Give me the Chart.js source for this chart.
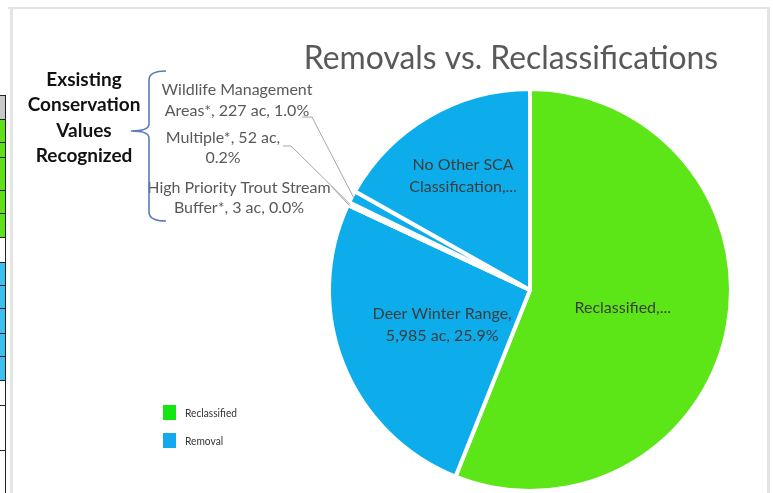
<!DOCTYPE html>
<html>
<head>
<meta charset="utf-8">
<script src="https://cdn.jsdelivr.net/npm/chart.js@4.4.1/dist/chart.umd.min.js"></script>
<style>
  body { margin: 0; background: #fff; }
  #wrap { position: relative; width: 773px; height: 493px; }
</style>
</head>
<body>
<div id="wrap"><canvas id="removalsPie" width="773" height="493"></canvas></div>
<script>
// slice order is clockwise from 12 o'clock, same as the picture
const categories = ['Reclassified', 'Deer Winter Range', 'High Priority Trout Stream Buffer*', 'Multiple*', 'Wildlife Management Areas*', 'No Other SCA Classification'];
const acres = [12950, 5985, 3, 52, 227, 3890];
const groups = ['Reclassified', 'Removal', 'Removal', 'Removal', 'Removal', 'Removal'];
const sliceText = [
    ['Reclassified,...'],
    ['Deer Winter Range,', '5,985 ac, 25.9%'],
    ['High Priority Trout Stream', 'Buffer*, 3 ac, 0.0%'],
    ['Multiple*, 52 ac,', '0.2%'],
    ['Wildlife Management', 'Areas*, 227 ac, 1.0%'],
    ['No Other SCA', 'Classification,...']
];
const legendItems = ['Reclassified', 'Removal'];
const titleText = 'Removals vs. Reclassifications';
const sideNote = ['Exsisting', 'Conservation', 'Values', 'Recognized'];

const groupColor = { Reclassified: '#5de617', Removal: '#0dadec' };
const legendColor = { Reclassified: '#14e614', Removal: '#12a9ee' };

// label placement: inside ones use a fraction of the radius, outside ones sit left of the pie
const insideAt = { 0: 0.47, 1: 0.47, 5: 0.66 };
const outsideAt = {
    4: { x: 237, y: [90, 111], from: [302, 117], knee: [312, 117] },
    3: { x: 223, y: [138, 158], from: [283, 146], knee: [291, 146] },
    2: { x: 239, y: [188, 208], from: [331, 186], knee: [331, 186] }
};

function say(ctx, text, x, y, font, color, squeeze, align) {
    ctx.save();
    ctx.font = font;
    ctx.fillStyle = color;
    ctx.textAlign = align || 'center';
    ctx.textBaseline = 'middle';
    ctx.translate(x, y);
    ctx.scale(squeeze || 1, 1);
    ctx.fillText(text, 0, 0);
    ctx.restore();
}

const backdrop = {
    id: 'backdrop',
    beforeDraw(chart) {
        const ctx = chart.ctx;
        ctx.save();
        // chart frame
        ctx.fillStyle = '#e4e4e4';
        ctx.fillRect(8, 7, 762, 2);
        ctx.fillRect(10, 7, 3, 486);
        ctx.fillRect(767, 7, 3, 486);
        // bit of the spreadsheet peeking in on the left
        const rows = [[95, 119, '#c8c8c8'], [119, 142, '#5ee01a'], [142, 157, '#5ee01a'], [157, 190, '#5ee01a'],
            [190, 213, '#5ee01a'], [213, 237, '#5ee01a'], [237, 262, '#fff'], [262, 285, '#3cc0f0'],
            [285, 308, '#3cc0f0'], [308, 333, '#3cc0f0'], [333, 356, '#3cc0f0'], [356, 380, '#3cc0f0'],
            [380, 405, '#fff'], [405, 450, '#fff'], [450, 493, '#fff']];
        rows.forEach(r => {
            ctx.fillStyle = r[2];
            ctx.fillRect(0, r[0], 6, r[1] - r[0]);
            ctx.fillStyle = '#222';
            ctx.fillRect(0, r[0], 6, 1);
        });
        ctx.fillStyle = '#222';
        ctx.fillRect(5, 95, 1, 398);
        ctx.restore();
    }
};

const sliceLabels = {
    id: 'sliceLabels',
    afterDatasetsDraw(chart) {
        const ctx = chart.ctx;
        const arcs = chart.getDatasetMeta(0).data;
        arcs.forEach((arc, i) => {
            const mid = (arc.startAngle + arc.endAngle) / 2;
            if (insideAt[i] !== undefined) {
                const rr = arc.outerRadius * insideAt[i];
                const cx = arc.x + Math.cos(mid) * rr;
                const cy = arc.y + Math.sin(mid) * rr;
                const lines = sliceText[i];
                lines.forEach((t, k) => {
                    say(ctx, t, cx, cy + (k - (lines.length - 1) / 2) * 22, '16px Lato', '#3d3d3d', 1);
                });
            } else if (outsideAt[i]) {
                const o = outsideAt[i];
                const ex = arc.x + Math.cos(mid) * (arc.outerRadius - 2);
                const ey = arc.y + Math.sin(mid) * (arc.outerRadius - 2);
                ctx.save();
                ctx.strokeStyle = '#a6a6a6';
                ctx.lineWidth = 1;
                ctx.beginPath();
                ctx.moveTo(o.from[0], o.from[1]);
                ctx.lineTo(o.knee[0], o.knee[1]);
                ctx.lineTo(ex, ey);
                ctx.stroke();
                ctx.restore();
                sliceText[i].forEach((t, k) => {
                    say(ctx, t, o.x, o.y[k], '16px Lato', '#595959', 1);
                });
            }
        });
    },
    afterDraw(chart) {
        const ctx = chart.ctx;
        say(ctx, titleText, 511, 58, '33px Lato', '#595959', 0.965);
        const ys = [80, 105, 131, 156];
        sideNote.forEach((t, k) => say(ctx, t, 84, ys[k], 'bold 19px Lato', '#111', 1));
        // brace
        ctx.save();
        ctx.strokeStyle = '#5b7db5';
        ctx.lineWidth = 1.6;
        ctx.beginPath();
        ctx.moveTo(166, 71);
        ctx.quadraticCurveTo(149, 71, 149, 80);
        ctx.lineTo(149, 124);
        ctx.quadraticCurveTo(149, 131, 131, 131);
        ctx.quadraticCurveTo(149, 131, 149, 138);
        ctx.lineTo(149, 212);
        ctx.quadraticCurveTo(149, 221, 166, 221);
        ctx.stroke();
        ctx.restore();
        // legend, only the two groups
        legendItems.forEach((name, k) => {
            const y = 405 + k * 28;
            ctx.fillStyle = legendColor[name];
            ctx.fillRect(163, y, 13, 15);
            say(ctx, name, 185, y + 8, '12px Lato', '#333', 0.85, 'left');
        });
    }
};

new Chart(document.getElementById('removalsPie'), {
    type: 'pie',
    data: {
        labels: categories,
        datasets: [{
            data: acres,
            backgroundColor: groups.map(g => groupColor[g]),
            borderColor: '#fff',
            borderWidth: 4
        }]
    },
    options: {
        responsive: false,
        animation: false,
        devicePixelRatio: 1,
        layout: { padding: { left: 327, right: 40, top: 87, bottom: 0 } },
        plugins: {
            legend: { display: false },
            tooltip: { enabled: false }
        }
    },
    plugins: [backdrop, sliceLabels]
});
</script>
</body>
</html>
